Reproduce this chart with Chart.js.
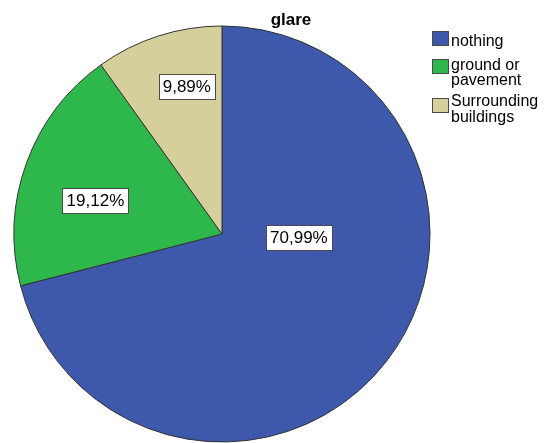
<!DOCTYPE html>
<html>
<head>
<meta charset="utf-8">
<title>glare</title>
<script src="https://cdn.jsdelivr.net/npm/chart.js@4/dist/chart.umd.min.js"></script>
<style>
  html, body { margin: 0; padding: 0; background: #ffffff; }
  canvas { display: block; }
</style>
</head>
<body>
<canvas id="chart" width="549" height="443"></canvas>
<script>
// Answer categories and their share of responses (percent)
const categories = ['nothing', 'ground or pavement', 'Surrounding buildings'];
const legendLines = [['nothing'], ['ground or', 'pavement'], ['Surrounding', 'buildings']];
const percentages = [70.99, 19.12, 9.89];
const chartTitle = 'glare';

const sliceColors = ['#3e58ac', '#2eb84b', '#d5cf9b'];
const FONT = '"Liberation Sans", Arial, sans-serif';

// Percent labels in white boxes, placed along each slice (angle clockwise from top, radius fraction)
const sliceLabels = {
  id: 'sliceLabels',
  afterDatasetsDraw(chart, args, opts) {
    const ctx = chart.ctx;
    const meta = chart.getDatasetMeta(0);
    const values = chart.data.datasets[0].data;
    ctx.save();
    ctx.font = '17px ' + FONT;
    ctx.textAlign = 'center';
    ctx.textBaseline = 'middle';
    meta.data.forEach((arc, i) => {
      const p = opts.placement[i];
      const a = p.angle * Math.PI / 180;
      const cx = arc.x + Math.sin(a) * arc.outerRadius * p.r;
      const cy = arc.y - Math.cos(a) * arc.outerRadius * p.r;
      const text = values[i].toFixed(2).replace('.', ',') + '%';
      const w = Math.round(ctx.measureText(text).width) + 8;
      const h = 25;
      const x0 = Math.round(cx - w / 2) + 0.5;
      const y0 = Math.round(cy - h / 2) + 0.5;
      ctx.fillStyle = '#ffffff';
      ctx.fillRect(x0, y0, w, h);
      ctx.strokeStyle = '#4a4a4a';
      ctx.lineWidth = 1;
      ctx.strokeRect(x0, y0, w, h);
      ctx.fillStyle = '#000000';
      ctx.fillText(text, cx, cy + 1);
    });
    ctx.restore();
  }
};

// Title and side legend
const sideLegend = {
  id: 'sideLegend',
  afterDraw(chart, args, opts) {
    const ctx = chart.ctx;
    ctx.save();
    ctx.fillStyle = '#000000';
    ctx.textAlign = 'center';
    ctx.textBaseline = 'alphabetic';
    ctx.font = 'bold 17px ' + FONT;
    ctx.fillText(chartTitle, 291, 25);

    ctx.font = '16px ' + FONT;
    ctx.textAlign = 'left';
    const colors = chart.data.datasets[0].backgroundColor;
    opts.items.forEach((item, i) => {
      ctx.fillStyle = colors[i];
      ctx.fillRect(432.5, item.box + 0.5, 16, 14);
      ctx.strokeStyle = '#4a4a4a';
      ctx.lineWidth = 1;
      ctx.strokeRect(432.5, item.box + 0.5, 16, 14);
      ctx.fillStyle = '#000000';
      legendLines[i].forEach((line, j) => {
        ctx.fillText(line, 451, item.baseline + j * 15.5);
      });
    });
    ctx.restore();
  }
};

new Chart(document.getElementById('chart'), {
  type: 'pie',
  data: {
    labels: categories,
    datasets: [{
      data: percentages,
      backgroundColor: sliceColors,
      borderColor: '#333333',
      borderWidth: 1
    }]
  },
  options: {
    responsive: false,
    animation: false,
    radius: 208,
    layout: { padding: { left: 14, right: 119, top: 26, bottom: 1 } },
    plugins: {
      legend: { display: false },
      title: { display: false },
      tooltip: { enabled: false },
      sliceLabels: {
        placement: [
          { angle: 92.6, r: 0.37 },
          { angle: 285, r: 0.63 },
          { angle: 346.6, r: 0.73 }
        ]
      },
      sideLegend: {
        items: [
          { box: 31, baseline: 46 },
          { box: 59, baseline: 69.5 },
          { box: 98, baseline: 106 }
        ]
      }
    }
  },
  plugins: [sliceLabels, sideLegend]
});
</script>
</body>
</html>
